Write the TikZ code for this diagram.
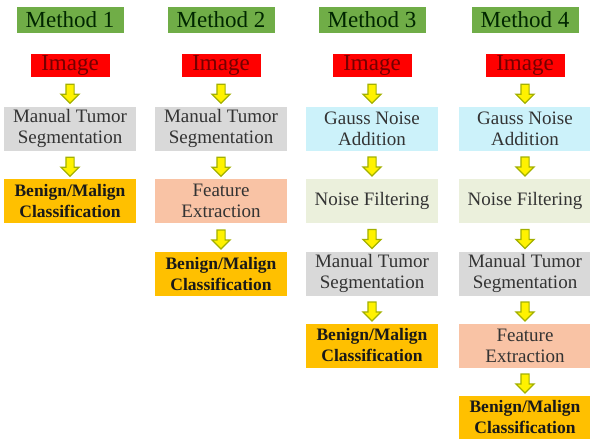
\documentclass[tikz,border=0pt]{standalone}
\usepackage{fontspec}
\setmainfont{LiberationSerif}[Extension=.ttf, UprightFont=*-Regular, BoldFont=*-Bold]
\usetikzlibrary{shapes.arrows,calc}
\definecolor{hdrgreen}{HTML}{70AD47}
\definecolor{segray}{HTML}{D9D9D9}
\definecolor{noisecyan}{HTML}{CCF2FA}
\definecolor{filtgreen}{HTML}{EBF0DC}
\definecolor{featsalmon}{HTML}{F9C3A5}
\definecolor{clsorange}{HTML}{FFC000}
\definecolor{arrowolive}{HTML}{A3B000}
\begin{document}
\begin{tikzpicture}[x=1pt,y=-1pt]
    \tikzstyle{box}=[minimum width=132pt, minimum height=44pt, inner sep=0pt, align=center, font=\rmfamily\fontsize{19}{21}\selectfont, text=black!80]
    \tikzstyle{hdr}=[fill=hdrgreen, minimum width=107pt, minimum height=26pt, inner sep=0pt, font=\rmfamily\fontsize{23}{24}\selectfont, text=black!85!green]
    \tikzstyle{img}=[fill=red, minimum width=79pt, minimum height=23pt, inner sep=0pt, font=\rmfamily\fontsize{23}{24}\selectfont, text=red!45!black]
    \tikzstyle{cls}=[box, fill=clsorange, font=\rmfamily\bfseries\fontsize{17.5}{21}\selectfont, text=black!90]
    \tikzstyle{blk}=[single arrow, shape border rotate=270, fill=yellow, draw=arrowolive, line width=1.2pt, inner sep=3.5pt, minimum height=19pt, single arrow head extend=5pt, single arrow head indent=0pt]
    \useasboundingbox (0,0) rectangle (590,439);
    \foreach \i/\x in {1/70, 2/221, 3/372, 4/525} {
      \node[hdr] (m\i) at (\x,20) {Method \i};
      \node[img] (i\i) at (\x,65.5) {Image};
    }
    % method 1
    \node[box, fill=segray] (b11) at (70,128.5) {Manual Tumor\\Segmentation};
    \node[cls] (b12) at (70,201) {Benign/Malign\\Classification};
    % method 2
    \node[box, fill=segray] (b21) at (221,128.5) {Manual Tumor\\Segmentation};
    \node[box, fill=featsalmon] (b22) at (221,201) {Feature\\Extraction};
    \node[cls] (b23) at (221,274) {Benign/Malign\\Classification};
    % method 3
    \node[box, fill=noisecyan] (b31) at (372,128.5) {Gauss Noise\\Addition};
    \node[box, fill=filtgreen] (b32) at (372,200.5) {Noise Filtering};
    \node[box, fill=segray] (b33) at (372,273.5) {Manual Tumor\\Segmentation};
    \node[cls] (b34) at (372,345.5) {Benign/Malign\\Classification};
    % method 4
    \node[box, fill=noisecyan] (b41) at (525,128.5) {Gauss Noise\\Addition};
    \node[box, fill=filtgreen] (b42) at (525,200.5) {Noise Filtering};
    \node[box, fill=segray] (b43) at (525,273.5) {Manual Tumor\\Segmentation};
    \node[box, fill=featsalmon] (b44) at (525,345.5) {Feature\\Extraction};
    \node[cls] (b45) at (525,417.5) {Benign/Malign\\Classification};
    \foreach \a/\b in {i1/b11, b11/b12, i2/b21, b21/b22, b22/b23,
                       i3/b31, b31/b32, b32/b33, b33/b34,
                       i4/b41, b41/b42, b42/b43, b43/b44, b44/b45} {
      \node[blk] (\a-\b) at ($(\a.south)!0.5!(\b.north)$) {};
    }
\end{tikzpicture}
\end{document}
